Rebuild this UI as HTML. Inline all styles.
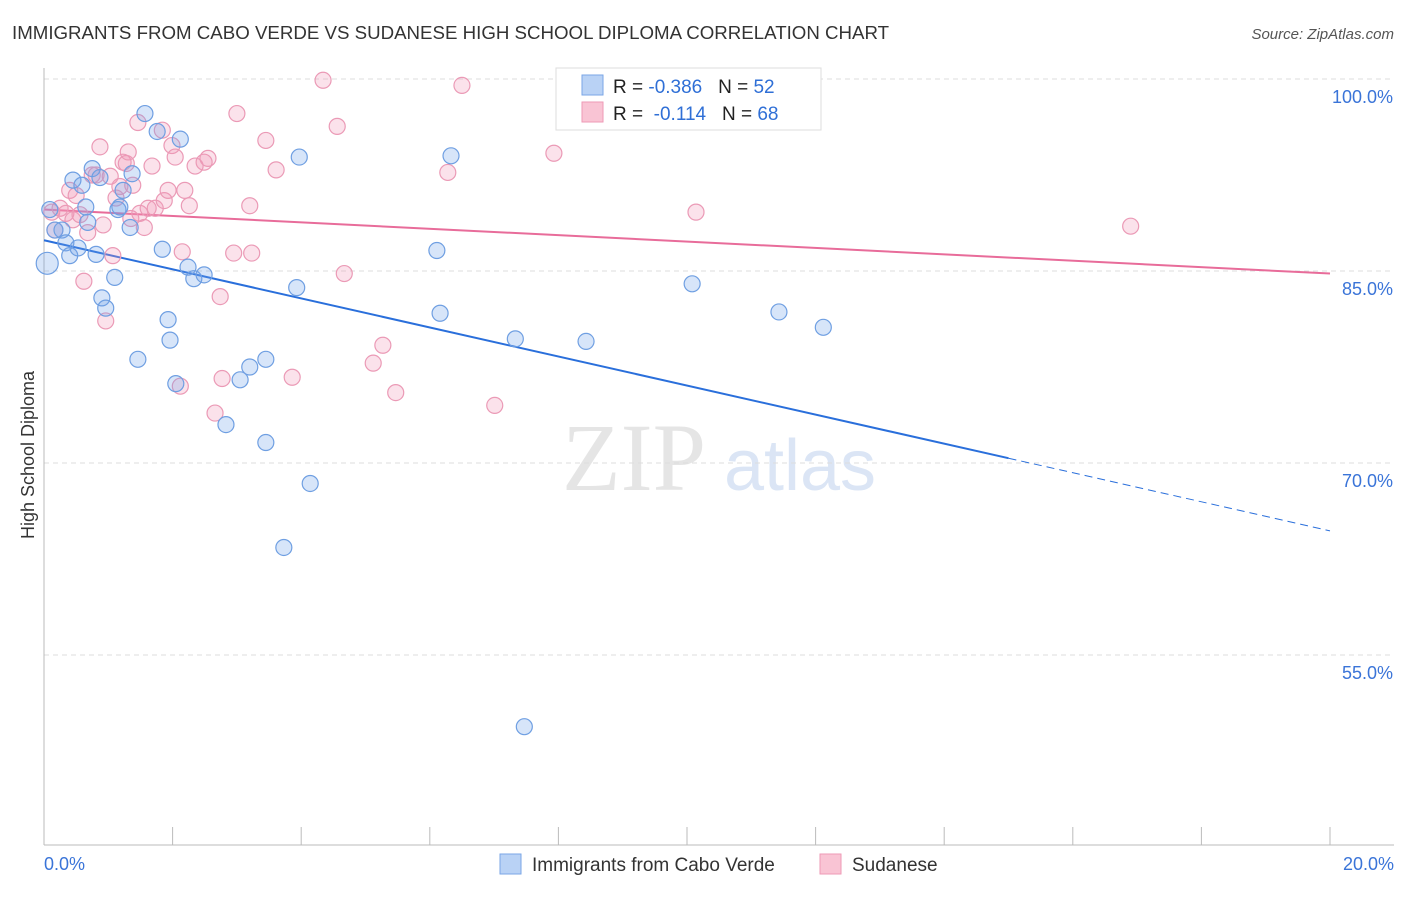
<!DOCTYPE html>
<html><head><meta charset="utf-8"><style>
body{margin:0;background:#fff;font-family:"Liberation Sans",sans-serif}
</style></head><body>
<svg id="chart" width="1406" height="892" xmlns="http://www.w3.org/2000/svg" font-family="Liberation Sans, sans-serif">
<text x="12" y="39" font-size="18.7" fill="#333">IMMIGRANTS FROM CABO VERDE VS SUDANESE HIGH SCHOOL DIPLOMA CORRELATION CHART</text>
<text x="1394" y="39" font-size="15" fill="#555" text-anchor="end" font-style="italic">Source: ZipAtlas.com</text>
<text transform="translate(34,455) rotate(-90)" font-size="18" fill="#333" text-anchor="middle">High School Diploma</text>
<g opacity="0.5">
<text x="634" y="490" font-size="96" fill="#ccc" text-anchor="middle" font-family="Liberation Serif, serif">ZIP</text>
<text x="800" y="490" font-size="72" fill="#b8cdec" text-anchor="middle">atlas</text>
</g>
<g id="grid"></g><g id="axes"></g><g id="lines"></g><g id="pts"></g>
<g>
<rect x="556" y="68" width="265" height="62" fill="#fff" stroke="#ddd"/>
<rect x="582" y="75" width="21" height="20" fill="#b9d2f5" stroke="#7aa6e6"/>
<rect x="582" y="102" width="21" height="20" fill="#f9c4d4" stroke="#ee9ab6"/>
<text x="613" y="93" font-size="19" fill="#222" xml:space="preserve">R = <tspan fill="#2f6fd6">-0.386</tspan>   N = <tspan fill="#2f6fd6">52</tspan></text>
<text x="613" y="120" font-size="19" fill="#222" xml:space="preserve">R =  <tspan fill="#2f6fd6">-0.114</tspan>   N = <tspan fill="#2f6fd6">68</tspan></text>
</g>
<g>
<rect x="500" y="854" width="21" height="20" fill="#b9d2f5" stroke="#7aa6e6"/>
<text x="532" y="871" font-size="19" fill="#333">Immigrants from Cabo Verde</text>
<rect x="820" y="854" width="21" height="20" fill="#f9c4d4" stroke="#ee9ab6"/>
<text x="852" y="871" font-size="19" fill="#333">Sudanese</text>
</g>
</svg>
<script>
const blueX=[0.05,0.09,0.17,0.28,0.34,0.40,0.45,0.53,0.59,0.65,0.68,0.75,0.81,0.87,0.90,0.96,1.10,1.15,1.18,1.23,1.34,1.37,1.46,1.57,1.76,1.84,1.93,1.96,2.05,2.12,2.24,2.33,2.49,2.83,3.05,3.20,3.45,3.45,3.73,3.93,3.97,4.14,6.11,6.16,6.33,7.33,7.47,8.43,10.08,11.43,12.12];
const blueY=[85.6,89.8,88.2,88.2,87.2,86.2,92.1,86.8,91.7,90.0,88.8,93.0,86.3,92.3,82.9,82.1,84.5,89.8,90.0,91.3,88.4,92.6,78.1,97.3,95.9,86.7,81.2,79.6,76.2,95.3,85.3,84.4,84.7,73.0,76.5,77.5,78.1,71.6,63.4,83.7,93.9,68.4,86.6,81.7,94.0,79.7,49.4,79.5,84.0,81.8,80.6];
const pinkX=[0.12,0.17,0.25,0.34,0.40,0.45,0.50,0.56,0.62,0.68,0.75,0.81,0.87,0.92,0.96,1.03,1.07,1.12,1.18,1.23,1.28,1.31,1.35,1.38,1.46,1.49,1.56,1.62,1.68,1.73,1.84,1.87,1.93,1.99,2.04,2.12,2.15,2.19,2.26,2.35,2.49,2.55,2.66,2.74,2.77,2.95,3.00,3.20,3.23,3.45,3.61,3.86,4.34,4.56,4.67,5.12,5.27,5.47,6.28,6.50,7.01,7.93,10.14,16.9];
const pinkY=[89.6,88.2,89.9,89.5,91.3,89.0,90.9,89.4,84.2,88.0,92.5,92.5,94.7,88.6,81.1,92.4,86.2,90.7,91.6,93.5,93.4,94.3,89.1,91.7,96.6,89.5,88.4,89.9,93.2,89.9,96.0,90.5,91.3,94.8,93.9,76.0,86.5,91.3,90.1,93.2,93.5,93.8,73.9,83.0,76.6,86.4,97.3,90.1,86.4,95.2,92.9,76.7,99.9,96.3,84.8,77.8,79.2,75.5,92.7,99.5,74.5,94.2,89.6,88.5];
const yTicks=[100,85,70,55];
const yTickLabels=["100.0%","85.0%","70.0%","55.0%"];
const blueTrend=[87.4,64.7], pinkTrend=[89.8,84.8], blueSolidEnd=15;
const NS="http://www.w3.org/2000/svg";
const sx=v=>44+v*64.3, sy=v=>79+(100-v)*12.8;
function mk(t,a,p){const e=document.createElementNS(NS,t);for(const k in a)e.setAttribute(k,a[k]);p.appendChild(e);return e;}
const grid=document.getElementById('grid'),axes=document.getElementById('axes'),lines=document.getElementById('lines'),pts=document.getElementById('pts');
yTicks.forEach((t,i)=>{
 const l=mk('line',{x1:44,x2:1394,y1:sy(t),y2:sy(t),stroke:'#ddd','stroke-dasharray':'5,4'},grid);
 
 
 const tx=mk('text',{x:1393,y:sy(t)+24,'font-size':18,fill:'#3a74d8','text-anchor':'end'},axes);
 tx.textContent=yTickLabels[i];
 
 
});
const ax=mk('line',{x1:44,x2:44,y1:68,y2:845,stroke:'#bbb'},axes);


const bx=mk('line',{x1:44,x2:1394,y1:845,y2:845,stroke:'#bbb'},axes);


for(let i=0;i<=10;i++){const t=mk('line',{x1:sx(i*2),x2:sx(i*2),y1:827,y2:845,stroke:'#bbb'},axes);
 
 }
[[0,"0.0%",'start',44],[20,"20.0%",'end',1394]].forEach(d=>{const t=mk('text',{x:d[3],y:870,'font-size':18,fill:'#3a74d8','text-anchor':d[2]},axes);t.textContent=d[1];
 
 });
function draw(X,Y,fill,stroke,name){X.forEach((x,i)=>{const c=mk('circle',{cx:sx(x),cy:sy(Y[i]),r:(i==0&&name=='blue-point')?11:8,fill:fill,stroke:stroke,'stroke-width':1.2},pts);
 
 });}
draw(pinkX,pinkY,'rgba(242,150,182,0.28)','#eb9ab6','pink-point');
draw(blueX,blueY,'rgba(110,160,232,0.28)','#6f9fe2','blue-point');
const bAt=x=>blueTrend[0]+(blueTrend[1]-blueTrend[0])*x/20;
let e=mk('line',{x1:sx(0),y1:sy(bAt(0)),x2:sx(blueSolidEnd),y2:sy(bAt(blueSolidEnd)),stroke:'#2a6fdb','stroke-width':2},lines);


e=mk('line',{x1:sx(blueSolidEnd),y1:sy(bAt(blueSolidEnd)),x2:sx(20),y2:sy(bAt(20)),stroke:'#2a6fdb','stroke-width':1,'stroke-dasharray':'8,5'},lines);


e=mk('line',{x1:sx(0),y1:sy(pinkTrend[0]),x2:sx(20),y2:sy(pinkTrend[1]),stroke:'#e86c9a','stroke-width':2},lines);


</script>
</body></html>
